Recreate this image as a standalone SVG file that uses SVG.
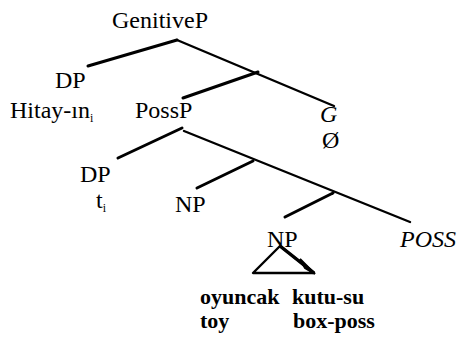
<svg xmlns="http://www.w3.org/2000/svg" width="460" height="343" viewBox="0 0 460 343">
<rect width="460" height="343" fill="#fff"/>
<g id="connectors" stroke="#000" stroke-width="3" stroke-linecap="round">
<line x1="177" y1="40" x2="88" y2="66"/>
<line stroke-width="2.4" x1="177" y1="40" x2="334" y2="106"/>
<line x1="258" y1="72" x2="183" y2="98"/>
<line x1="182" y1="128" x2="118" y2="158"/>
<line stroke-width="2.4" x1="184" y1="131" x2="410" y2="222"/>
<line x1="253" y1="161" x2="197" y2="188"/>
<line x1="333" y1="193" x2="285" y2="217"/>
</g>
<g id="GenitiveP"><text font-family="Liberation Serif" font-size="24" x="112" y="28">GenitiveP</text></g>
<g id="DP1"><text font-family="Liberation Serif" font-size="24" x="55" y="88">DP</text></g>
<g id="Hitay"><text font-family="Liberation Serif" font-size="24" x="10" y="118">Hitay-ın<tspan font-size="12" dy="4">i</tspan></text></g>
<g id="PossP"><text font-family="Liberation Serif" font-size="24" x="135" y="118">PossP</text></g>
<g id="G"><text font-family="Liberation Serif" font-size="24" font-style="italic" x="320" y="122">G</text><text font-family="Liberation Serif" font-size="24" x="322" y="148">Ø</text></g>
<g id="DP2"><text font-family="Liberation Serif" font-size="24" x="80" y="182">DP</text><text font-family="Liberation Serif" font-size="24" x="96" y="208">t<tspan font-size="12" dy="4">i</tspan></text></g>
<g id="NP1"><text font-family="Liberation Serif" font-size="24" x="175" y="212">NP</text></g>
<g id="NP2"><text font-family="Liberation Serif" font-size="24" x="267" y="247">NP</text>
<path d="M280,246 L253,273 L314,273 Z" fill="none" stroke="#000" stroke-width="2.4" stroke-linejoin="round"/>
<path d="M280,246 L314,273" stroke="#000" stroke-width="3.5"/>
<path d="M300,259 L315,274 L305,268 Z" fill="#000" stroke="#000" stroke-width="2"/>
</g>
<g id="POSS"><text font-family="Liberation Serif" font-size="24" font-style="italic" x="400" y="247">POSS</text></g>
<g id="gloss">
<text font-family="Liberation Serif" font-size="22" font-weight="bold" x="200" y="304">oyuncak</text><text font-family="Liberation Serif" font-size="22" font-weight="bold" x="292" y="304">kutu-su</text>
<text font-family="Liberation Serif" font-size="22" font-weight="bold" x="200" y="328">toy</text><text font-family="Liberation Serif" font-size="22" font-weight="bold" x="293" y="328">box-poss</text>
</g>
</svg>
